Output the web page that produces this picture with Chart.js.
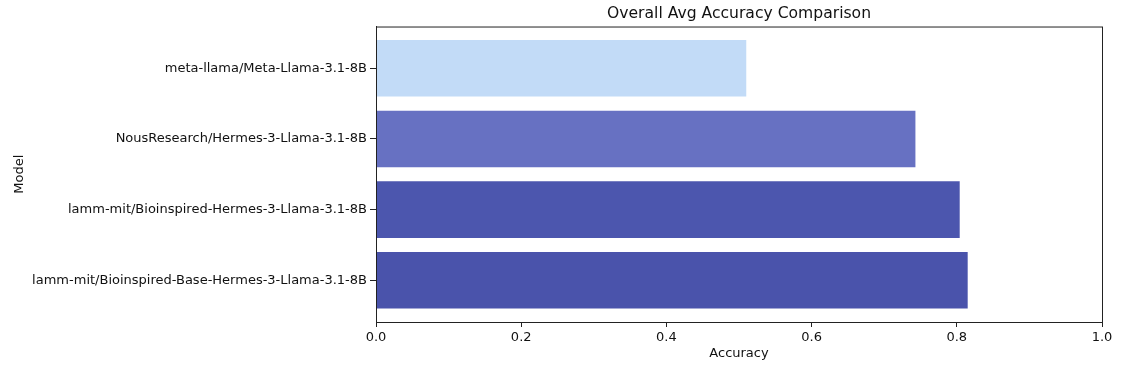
<!DOCTYPE html>
<html lang="en">
  <head>
    <meta charset="UTF-8" />
    <title>Overall Avg Accuracy Comparison</title>
    <script src="https://cdn.jsdelivr.net/npm/chart.js"></script>
    <style>
      html, body { margin: 0; padding: 0; background: #fff; }
      #wrap { width: 1126px; height: 376px; }
    </style>
  </head>
  <body>
    <div id="wrap"><canvas id="accChart"></canvas></div>
    <script>
      // data, top to bottom
      const models = [
        "meta-llama/Meta-Llama-3.1-8B",
        "NousResearch/Hermes-3-Llama-3.1-8B",
        "lamm-mit/Bioinspired-Hermes-3-Llama-3.1-8B",
        "lamm-mit/Bioinspired-Base-Hermes-3-Llama-3.1-8B",
      ];
      const accuracy = [0.51, 0.743, 0.804, 0.815];
      const barColors = ["#c2dbf7", "#6771c2", "#4c56ae", "#4a53ab"];
      const xTicks = [0, 0.2, 0.4, 0.6, 0.8, 1.0];

      const font = "'DejaVu Sans', sans-serif";

      // matplotlib-style frame around the plot area
      const frame = {
        id: "frame",
        afterDraw(chart) {
          const { ctx, chartArea: a } = chart;
          ctx.save();
          ctx.strokeStyle = "#222";
          ctx.lineWidth = 1;
          ctx.strokeRect(a.left + 0.5, a.top + 0.5, a.right - a.left, a.bottom - a.top);
          ctx.restore();
        },
      };

      new Chart(document.getElementById("accChart"), {
        type: "bar",
        data: {
          datasets: [
            {
              data: accuracy.map((v, i) => ({ x: v, y: i })),
              backgroundColor: barColors,
              barPercentage: 0.8,
              categoryPercentage: 1,
            },
          ],
        },
        options: {
          indexAxis: "y",
          responsive: true,
          maintainAspectRatio: false,
          animation: false,
          layout: { padding: { left: 0, right: 24, top: 0, bottom: 0 } },
          plugins: {
            legend: { display: false },
            tooltip: { enabled: false },
            title: {
              display: true,
              text: "Overall Avg Accuracy Comparison",
              fullSize: false,
              color: "#111",
              font: { family: font, size: 15.6, weight: "normal" },
              padding: { top: 4.5, bottom: 3.3 },
            },
          },
          scales: {
            x: {
              type: "linear",
              min: 0,
              max: 1,
              afterBuildTicks: (s) => { s.ticks = xTicks.map((v) => ({ value: v })); },
              afterFit: (s) => { s.height = 54; },
              grid: { drawOnChartArea: false, tickLength: 5, tickColor: "#222" },
              border: { color: "#222" },
              ticks: {
                color: "#111",
                padding: 3,
                font: { family: font, size: 13 },
                callback: (v) => Number(v).toFixed(1),
              },
              title: {
                display: true,
                text: "Accuracy",
                color: "#111",
                font: { family: font, size: 13 },
                padding: { top: 0, bottom: 15 },
              },
            },
            y: {
              type: "linear",
              reverse: true,
              offset: false,
              min: -0.59,
              max: models.length - 1 + 0.59,
              afterBuildTicks: (s) => { s.ticks = models.map((_, i) => ({ value: i })); },
              afterFit: (s) => { s.width = 376; },
              grid: { offset: false, drawOnChartArea: false, tickLength: 6, tickColor: "#222" },
              border: { color: "#222" },
              ticks: {
                color: "#111",
                padding: 3,
                font: { family: font, size: 13 },
                callback: (v) => models[v],
              },
              title: {
                display: true,
                text: "Model",
                color: "#111",
                font: { family: font, size: 13 },
                padding: { top: 12, bottom: 0 },
              },
            },
          },
        },
        plugins: [frame],
      });
    </script>
  </body>
</html>
